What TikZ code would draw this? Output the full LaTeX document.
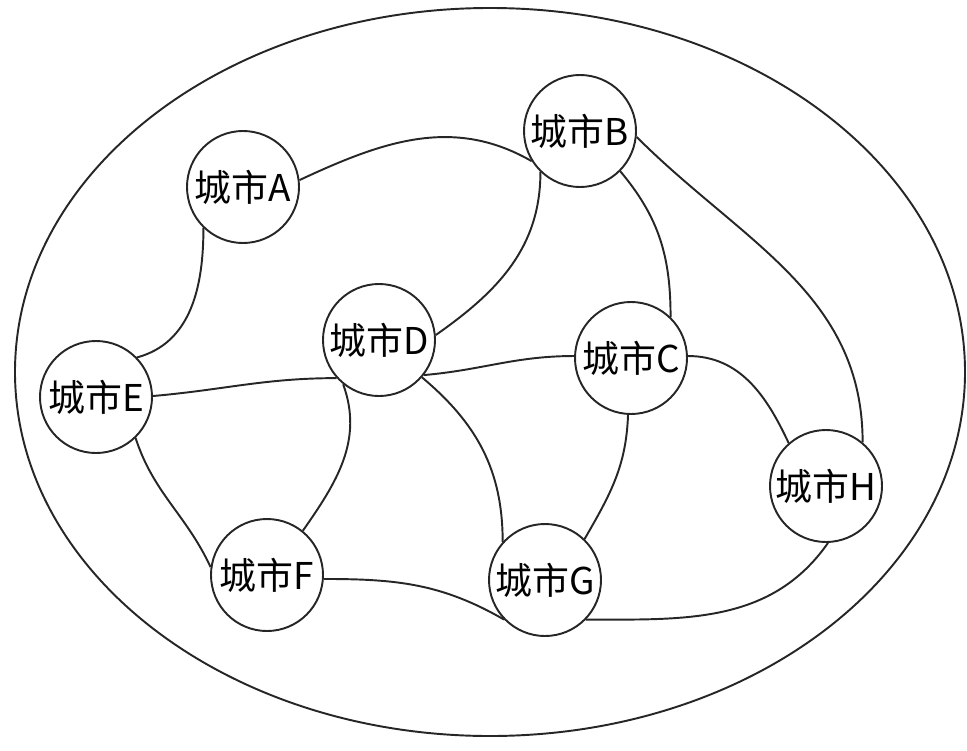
\documentclass[tikz,border=0pt]{standalone}
\usepackage{fontspec}
\setmainfont{Noto Sans CJK SC}
\usepackage{tikz}
\usetikzlibrary{shapes.geometric,positioning}
\tikzset{
  city/.style={circle, draw=black!85, line width=1.1pt, minimum size=2.24cm,
               inner sep=0pt, align=center, font=\fontsize{21}{24}\selectfont},
  road/.style={draw=black!85, line width=1.1pt},
  region/.style={draw=black!85, line width=1.1pt}
}
\begin{document}
\begin{tikzpicture}[x=0.2mm, y=-0.2mm]
  \useasboundingbox (0,0) rectangle (967,750);
  \draw[region] (490,372) ellipse (9.5cm and 7.28cm);

  \node[city] (A) at (243,187) {城市A};
  \node[city] (B) at (580,131) {城市B};
  \node[city] (C) at (631,358) {城市C};
  \node[city] (D) at (379,340) {城市D};
  \node[city] (E) at (96,397)  {城市E};
  \node[city] (F) at (267,575) {城市F};
  \node[city] (G) at (545,580) {城市G};
  \node[city] (H) at (826,486) {城市H};

  \draw[road] (A.7) to[out=25, in=150] (B.212);
  \draw[road] (B.226) to[out=-90, in=35] (D.5);
  \draw[road] (A.226) to[out=-90, in=15] (E.44);
  \draw[road] (E.1) to[out=5, in=180] (D.222);
  \draw[road] (D.231) to[out=-70, in=55] (F.51);
  \draw[road] (E.-46) to[out=-72, in=115] (F.172);
  \draw[road] (F.-4) to[out=0, in=150] (G.224);
  \draw[road] (D.-41) to[out=-40, in=90] (G.138);
  \draw[road] (D.-38) to[out=5, in=180] (C.178);
  \draw[road] (B.-45) to[out=-50, in=90] (C.46);
  \draw[road] (B.-6) to[out=-45, in=90] (H.50);
  \draw[road] (C.2) to[out=0, in=115] (H.131);
  \draw[road] (C.-93) to[out=-92, in=60] (G.46);
  \draw[road] (G.-44) to[out=0, in=235] (H.-88);
\end{tikzpicture}
\end{document}
